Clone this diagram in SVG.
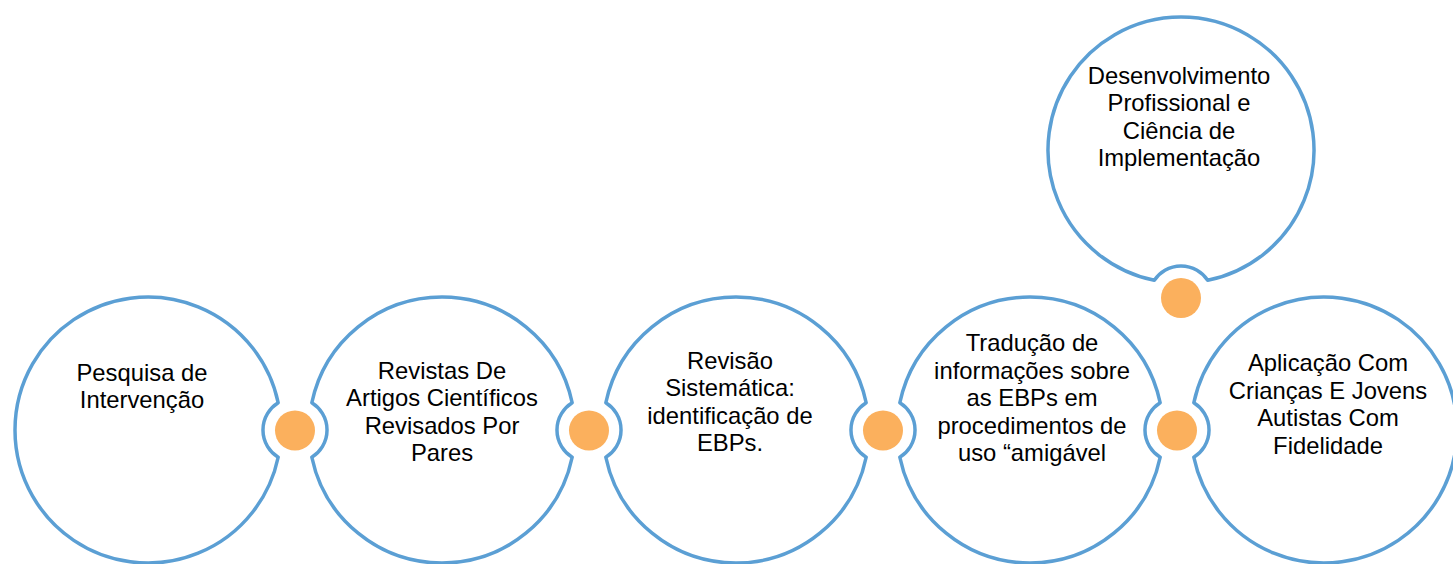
<svg xmlns="http://www.w3.org/2000/svg" width="1453" height="564" viewBox="0 0 1453 564">
<style>
.node{fill:#ffffff;stroke:#5B9FD4;stroke-width:3.5;stroke-linejoin:round}
.dot{fill:#FBB05D}
.lbl{font-family:"Liberation Sans",Arial,sans-serif;font-size:23.8px;fill:#000000;text-anchor:middle}
</style>
<rect width="1453" height="564" fill="#ffffff"/>
<g id="node1">
<path class="node" d="M278.18,402.76 A133,133 0 1 0 278.18,457.24 A32,32 0 0 1 278.18,402.76 Z"/>
<text class="lbl"><tspan x="142" y="381">Pesquisa de</tspan><tspan x="142" y="407.5">Intervenção</tspan></text>
</g>
<g id="node2">
<path class="node" d="M572.18,402.76 A133,133 0 0 0 311.82,402.76 A32,32 0 0 1 311.82,457.24 A133,133 0 0 0 572.18,457.24 A32,32 0 0 1 572.18,402.76 Z"/>
<text class="lbl"><tspan x="442" y="379">Revistas De</tspan><tspan x="442" y="406.3">Artigos Científicos</tspan><tspan x="442" y="433.6">Revisados Por</tspan><tspan x="442" y="460.9">Pares</tspan></text>
</g>
<g id="node3">
<path class="node" d="M866.18,402.76 A133,133 0 0 0 605.82,402.76 A32,32 0 0 1 605.82,457.24 A133,133 0 0 0 866.18,457.24 A32,32 0 0 1 866.18,402.76 Z"/>
<text class="lbl"><tspan x="730" y="369">Revisão</tspan><tspan x="730" y="396.4">Sistemática:</tspan><tspan x="730" y="423.8">identificação de</tspan><tspan x="730" y="451.2">EBPs.</tspan></text>
</g>
<g id="node4">
<path class="node" d="M1160.18,402.76 A133,133 0 0 0 899.82,402.76 A32,32 0 0 1 899.82,457.24 A133,133 0 0 0 1160.18,457.24 A32,32 0 0 1 1160.18,402.76 Z"/>
<text class="lbl"><tspan x="1032" y="351">Tradução de</tspan><tspan x="1032" y="378.5">informações sobre</tspan><tspan x="1032" y="406">as EBPs em</tspan><tspan x="1032" y="433.5">procedimentos de</tspan><tspan x="1032" y="461">uso “amigável</tspan></text>
</g>
<g id="node5">
<path class="node" d="M1193.82,457.24 A133,133 0 1 0 1193.82,402.76 A32,32 0 0 1 1193.82,457.24 Z"/>
<text class="lbl"><tspan x="1328" y="371">Aplicação Com</tspan><tspan x="1328" y="398.5">Crianças E Jovens</tspan><tspan x="1328" y="426">Autistas Com</tspan><tspan x="1328" y="453.5">Fidelidade</tspan></text>
</g>
<g id="node6">
<path class="node" d="M1207.66,280.3 A133,133 0 1 0 1154.34,280.3 A32,32 0 0 1 1207.66,280.3 Z"/>
<text class="lbl"><tspan x="1179" y="84">Desenvolvimento</tspan><tspan x="1179" y="111.4">Profissional e</tspan><tspan x="1179" y="138.8">Ciência de</tspan><tspan x="1179" y="166.2">Implementação</tspan></text>
</g>
<g id="connectors">
<circle class="dot" cx="295" cy="430.5" r="20"/>
<circle class="dot" cx="589" cy="430.5" r="20"/>
<circle class="dot" cx="883" cy="430.5" r="20"/>
<circle class="dot" cx="1177" cy="430.5" r="20"/>
<circle class="dot" cx="1181" cy="298" r="20"/>
</g>
</svg>
